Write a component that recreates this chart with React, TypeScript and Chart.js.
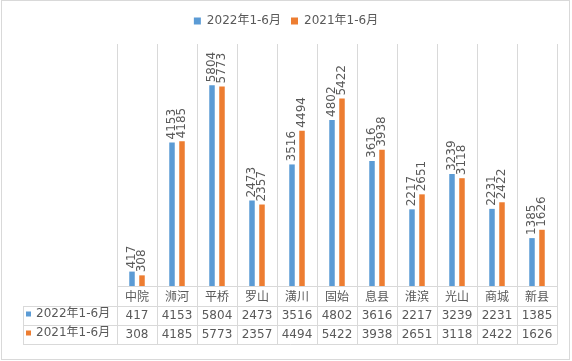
import React, { useEffect, useRef } from 'react';
import { Chart, registerables } from 'chart.js';

Chart.register(...registerables);

const categories = ['中院', '浉河', '平桥', '罗山', '潢川', '固始', '息县', '淮滨', '光山', '商城', '新县'];
const values2022 = [417, 4153, 5804, 2473, 3516, 4802, 3616, 2217, 3239, 2231, 1385];
const values2021 = [308, 4185, 5773, 2357, 4494, 5422, 3938, 2651, 3118, 2422, 1626];
const seriesLabels = ['2022年1-6月', '2021年1-6月'];
const seriesColors = ['#5B9BD5', '#ED7D31'];
const yMin = 0;
const yMax = 7000;

const TEXT = '#595959';
const LINE = '#D9D9D9';
const NUM_FAMILY = '"DejaVu Sans", "Noto Sans CJK SC", sans-serif';
const NUM_FONT = '12px ' + NUM_FAMILY;
const CAT_FONT = '12px "Noto Sans CJK SC", sans-serif';

const backgroundPlugin = {
  id: 'bgBorder',
  beforeDraw(chart: any) {
    const { ctx, width, height } = chart;
    ctx.save();
    ctx.fillStyle = '#ffffff';
    ctx.fillRect(0, 0, width, height);
    ctx.strokeStyle = LINE;
    ctx.lineWidth = 1;
    ctx.strokeRect(1.5, 0.5, width - 4, height - 2);
    ctx.restore();
  },
};

const dataLabelPlugin = {
  id: 'rotatedLabels',
  afterDatasetsDraw(chart: any) {
    const { ctx } = chart;
    chart.data.datasets.forEach((ds: any, di: number) => {
      const meta = chart.getDatasetMeta(di);
      meta.data.forEach((bar: any, i: number) => {
        ctx.save();
        ctx.translate(bar.x, bar.y - 3);
        ctx.rotate(-Math.PI / 2);
        ctx.font = NUM_FONT;
        ctx.fillStyle = TEXT;
        ctx.textAlign = 'left';
        ctx.textBaseline = 'middle';
        ctx.fillText(String(ds.data[i]), 0, 0);
        ctx.restore();
      });
    });
  },
};

const dataTablePlugin = {
  id: 'dataTable',
  afterDraw(chart: any) {
    const { ctx } = chart;
    const x = chart.scales.x;
    const n = chart.data.labels.length;
    const colW = x.width / n;
    const top = chart.chartArea.bottom;
    const y1 = top + 20;
    const y2 = y1 + 19;
    const y3 = y2 + 19;
    const headerLeft = 23;
    const al = (v: number) => Math.round(v) + 0.5;

    ctx.save();
    ctx.strokeStyle = LINE;
    ctx.lineWidth = 1;
    ctx.beginPath();
    for (let i = 0; i <= n; i++) {
      const ex = al(x.getPixelForValue(0) - colW / 2 + i * colW);
      ctx.moveTo(ex, top);
      ctx.lineTo(ex, y3);
    }
    ctx.moveTo(al(headerLeft), y1);
    ctx.lineTo(al(headerLeft), y3);
    ctx.moveTo(x.left, al(top));
    ctx.lineTo(x.right, al(top));
    [y1, y2, y3].forEach((yy) => {
      ctx.moveTo(headerLeft, al(yy));
      ctx.lineTo(x.right + 0.5, al(yy));
    });
    ctx.stroke();

    ctx.fillStyle = TEXT;
    ctx.textAlign = 'center';
    ctx.textBaseline = 'middle';
    chart.data.labels.forEach((lab: string, i: number) => {
      const cx = x.getPixelForValue(i);
      ctx.font = CAT_FONT;
      ctx.fillText(lab, cx, top + 10);
      ctx.font = NUM_FONT;
      chart.data.datasets.forEach((ds: any, di: number) => {
        const rowTop = di === 0 ? y1 : y2;
        ctx.fillText(String(ds.data[i]), cx, rowTop + 10);
      });
    });

    ctx.textAlign = 'left';
    chart.data.datasets.forEach((ds: any, di: number) => {
      const rowTop = di === 0 ? y1 : y2;
      const cy = rowTop + 8;
      ctx.fillStyle = ds.backgroundColor;
      ctx.fillRect(26, cy - 2.5, 5, 5);
      ctx.fillStyle = TEXT;
      ctx.font = NUM_FONT;
      ctx.fillText(ds.label, 36, cy);
    });
    ctx.restore();
  },
};

export default function App() {
  const ref = useRef<HTMLCanvasElement>(null);

  useEffect(() => {
    document.body.style.margin = '0';
    const canvas = ref.current!;
    const chart = new Chart(canvas, {
      type: 'bar',
      data: {
        labels: categories,
        datasets: [
          {
            label: seriesLabels[0],
            data: values2022,
            backgroundColor: seriesColors[0],
            borderWidth: 0,
            categoryPercentage: 0.5,
            barPercentage: 0.55,
          },
          {
            label: seriesLabels[1],
            data: values2021,
            backgroundColor: seriesColors[1],
            borderWidth: 0,
            categoryPercentage: 0.5,
            barPercentage: 0.55,
          },
        ],
      },
      options: {
        responsive: false,
        devicePixelRatio: 1,
        animation: false,
        layout: { padding: { top: 5, left: 0, right: 0, bottom: 0 } },
        plugins: {
          legend: {
            display: true,
            position: 'top',
            labels: {
              boxWidth: 7,
              boxHeight: 7,
              padding: 10,
              color: TEXT,
              font: { family: NUM_FAMILY, size: 12 },
            },
          },
          title: {
            display: true,
            text: '',
            weight: 500,
            padding: 0,
            font: { size: 7, lineHeight: 1 },
          } as any,
          tooltip: { enabled: false },
        },
        scales: {
          x: {
            type: 'category',
            offset: true,
            grid: { display: true, color: LINE, lineWidth: 1, drawTicks: false, offset: true },
            border: { display: true, color: LINE },
            ticks: { display: false },
            afterFit: (s: any) => {
              s.height = 75;
            },
          },
          y: {
            min: yMin,
            max: yMax,
            display: true,
            grid: { display: false },
            border: { display: false },
            ticks: { display: false },
            afterFit: (s: any) => {
              s.width = 117;
            },
          },
          yRight: {
            position: 'right',
            display: true,
            grid: { display: false },
            border: { display: false },
            ticks: { display: false },
            afterFit: (s: any) => {
              s.width = 15;
            },
          },
        },
      },
      plugins: [backgroundPlugin, dataLabelPlugin, dataTablePlugin],
    } as any);
    return () => chart.destroy();
  }, []);

  return (
    <div style={{ width: 572, height: 361 }}>
      <canvas ref={ref} width={572} height={361} style={{ display: 'block' }} />
    </div>
  );
}
